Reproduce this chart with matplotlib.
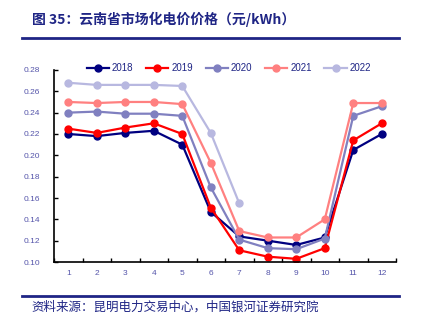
import matplotlib.pyplot as plt
from matplotlib.lines import Line2D

plt.rcParams['font.family'] = ['Liberation Sans', 'Noto Sans CJK SC', 'DejaVu Sans']

months = [1, 2, 3, 4, 5, 6, 7, 8, 9, 10, 11, 12]
price_2018 = [0.220, 0.218, 0.221, 0.223, 0.210, 0.147, 0.124, 0.120, 0.116, 0.123, 0.205, 0.220]
price_2019 = [0.225, 0.221, 0.226, 0.230, 0.220, 0.151, 0.111, 0.105, 0.103, 0.113, 0.214, 0.230]
price_2020 = [0.240, 0.241, 0.239, 0.239, 0.237, 0.170, 0.121, 0.113, 0.112, 0.122, 0.237, 0.246]
price_2021 = [0.250, 0.249, 0.250, 0.250, 0.248, 0.193, 0.129, 0.123, 0.123, 0.140, 0.249, 0.249]
price_2022 = [0.268, 0.266, 0.266, 0.266, 0.265, 0.221, 0.155]
years = ['2018', '2019', '2020', '2021', '2022']
series = [price_2018, price_2019, price_2020, price_2021, price_2022]
colors = ['#000080', '#FF0000', '#8080C0', '#FF8080', '#B8B8E0']

navy = '#1F2585'
tick_color = '#5555AA'
cjk = ['Noto Sans CJK SC', 'DejaVu Sans']

fig = plt.figure(figsize=(4.24, 3.30), dpi=100)
ax = fig.add_axes([0.1274, 0.206, 0.8066, 0.582])

for yr, vals, c in zip(years, series, colors):
    ax.plot(months[:len(vals)], vals, '-o', color=c, lw=1.6, ms=5, label=yr)

ax.set_xlim(0.5, 12.5)
ax.set_ylim(0.10, 0.28)
ax.set_yticks([0.10, 0.12, 0.14, 0.16, 0.18, 0.20, 0.22, 0.24, 0.26, 0.28])
ax.set_yticklabels(['%.2f' % v for v in ax.get_yticks()])
ax.set_xticks(months)
ax.set_xticks([m + 0.5 for m in months[:-1]] + [0.5, 12.5], minor=True)
ax.tick_params(axis='x', which='major', length=0, labelsize=6, colors=tick_color, pad=6)
ax.tick_params(axis='x', which='minor', direction='in', length=3, width=1, color='black')
ax.tick_params(axis='y', direction='in', length=3, width=1, color='black',
               labelsize=6, labelcolor=tick_color, pad=10)
for s in ['top', 'right']:
    ax.spines[s].set_visible(False)
for s in ['left', 'bottom']:
    ax.spines[s].set_linewidth(1.2)

handles = [Line2D([], [], color=c, marker='o', lw=1.6, ms=5) for c in colors]
leg = fig.legend(handles, years, loc='center', bbox_to_anchor=(0.54, 0.794), ncol=5,
                 frameon=False, fontsize=7, handlelength=2.3, columnspacing=1.3,
                 handletextpad=0.3)
for t in leg.get_texts():
    t.set_color(navy)

fig.text(0.075, 0.94, '图 35：云南省市场化电价价格（元/kWh）', fontsize=10,
         fontweight='bold', color=navy, va='center', family=cjk)
fig.add_artist(Line2D([0.052, 0.94], [0.885, 0.885], color=navy, lw=2))
fig.add_artist(Line2D([0.052, 0.94], [0.103, 0.103], color=navy, lw=2))
fig.text(0.075, 0.068, '资料来源：昆明电力交易中心，中国银河证券研究院', fontsize=9,
         color=navy, va='center', style='italic', family=cjk)

fig.savefig('out.png', dpi=100)
